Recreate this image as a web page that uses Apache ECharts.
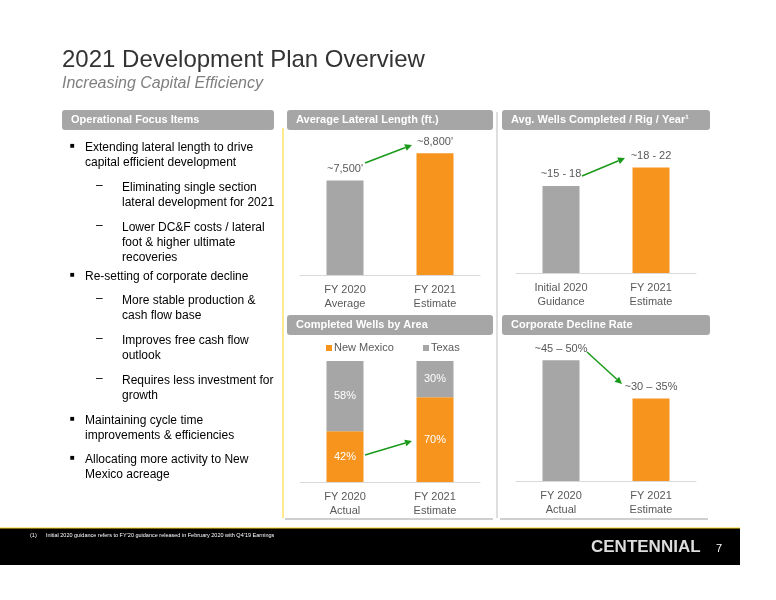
<!DOCTYPE html>
<html><head><meta charset="utf-8">
<script src="https://cdn.jsdelivr.net/npm/echarts@6/dist/echarts.min.js"></script>
<style>html,body{margin:0;padding:0;background:#fff}#c{width:776px;height:600px}</style>
</head><body><div id="c"></div>
<script>
const latCats = ['FY 2020\nAverage', 'FY 2021\nEstimate'];
const latValues = [7500, 8800];
const latLabels = ["~7,500'", "~8,800'"];
const wellCats = ['Initial 2020\nGuidance', 'FY 2021\nEstimate'];
const wellValues = [16.5, 20];
const wellLabels = ['~15 - 18', '~18 - 22'];
const areaCats = ['FY 2020\nActual', 'FY 2021\nEstimate'];
const newMexico = [42, 70];
const texas = [58, 30];
const declCats = ['FY 2020\nActual', 'FY 2021\nEstimate'];
const declValues = [47.5, 32.5];
const declLabels = ['~45 – 50%', '~30 – 35%'];

const GRAY = '#a6a6a6', ORANGE = '#f7941d', TXT = '#595959', GREEN = '#1a9a1a';
const F = 'Liberation Sans, Arial, sans-serif';

function grid(l, r, t, b) { return {left: l, width: r - l, top: t, height: b - t}; }
const grids = [grid(300, 480, 128, 275), grid(516, 696, 141, 273), grid(300, 480, 361, 482), grid(516, 696, 354, 481)];
const cats = [latCats, wellCats, areaCats, declCats];
const yr = [[3000, 10000], [0, 25], [0, 100], [0, 50]];

const xAxis = cats.map((c, i) => ({type: 'category', gridIndex: i, data: c,
  axisLine: {lineStyle: {color: '#d9d9d9'}}, axisTick: {show: false},
  axisLabel: {color: TXT, fontFamily: F, fontSize: 11, lineHeight: 14, margin: 8}}));
const yAxis = yr.map((r, i) => ({type: 'value', gridIndex: i, min: r[0], max: r[1], show: false}));

function colored(vals) { return vals.map((v, i) => ({value: v, itemStyle: {color: i === 0 ? GRAY : ORANGE}})); }
const lbl = (arr) => ({show: true, position: 'top', color: TXT, fontFamily: F, fontSize: 11, distance: 6,
  formatter: p => arr[p.dataIndex]});

const series = [
  {type: 'bar', xAxisIndex: 0, yAxisIndex: 0, data: colored(latValues), barWidth: 37, label: lbl(latLabels)},
  {type: 'bar', xAxisIndex: 1, yAxisIndex: 1, data: colored(wellValues), barWidth: 37, label: lbl(wellLabels)},
  {type: 'bar', name: 'New Mexico', xAxisIndex: 2, yAxisIndex: 2, stack: 'a', data: newMexico, barWidth: 37,
    itemStyle: {color: ORANGE}, label: {show: true, position: 'inside', color: '#fff', fontFamily: F, fontSize: 11, formatter: '{c}%'}},
  {type: 'bar', name: 'Texas', xAxisIndex: 2, yAxisIndex: 2, stack: 'a', data: texas, barWidth: 37,
    itemStyle: {color: GRAY}, label: {show: true, position: 'inside', color: '#fff', fontFamily: F, fontSize: 11, formatter: '{c}%'}},
  {type: 'bar', xAxisIndex: 3, yAxisIndex: 3, data: colored(declValues), barWidth: 37, label: lbl(declLabels)}
];

function header(x, y, w, text) {
  return {type: 'group', children: [
    {type: 'rect', shape: {x: x, y: y, width: w, height: 20, r: 3}, style: {fill: GRAY}},
    {type: 'text', x: x + 9, y: y + 10, style: {text: text, fill: '#fff', font: 'bold 11px ' + F, verticalAlign: 'middle'}}]};
}
function arrow(x1, y1, x2, y2) {
  const a = Math.atan2(y2 - y1, x2 - x1), L = 7, W = 3.5;
  const bx = x2 - L * Math.cos(a), by = y2 - L * Math.sin(a);
  const px = -Math.sin(a) * W, py = Math.cos(a) * W;
  return {type: 'group', children: [
    {type: 'line', shape: {x1: x1, y1: y1, x2: bx, y2: by}, style: {stroke: GREEN, lineWidth: 1.5}},
    {type: 'polygon', shape: {points: [[x2, y2], [bx + px, by + py], [bx - px, by - py]]}, style: {fill: GREEN}}]};
}
function t(x, y, text, font, fill) { return {type: 'text', x: x, y: y, style: {text: text, font: font, fill: fill || '#000', verticalAlign: 'top'}}; }

const bullets = [
  [70, 140, '■', 85, 'Extending lateral length to drive\ncapital efficient development'],
  [96, 180, '–', 122, 'Eliminating single section\nlateral development for 2021'],
  [96, 220, '–', 122, 'Lower DC&F costs / lateral\nfoot & higher ultimate\nrecoveries'],
  [70, 269, '■', 85, 'Re-setting of corporate decline'],
  [96, 293, '–', 122, 'More stable production &\ncash flow base'],
  [96, 333, '–', 122, 'Improves free cash flow\noutlook'],
  [96, 373, '–', 122, 'Requires less investment for\ngrowth'],
  [70, 413, '■', 85, 'Maintaining cycle time\nimprovements & efficiencies'],
  [70, 452, '■', 85, 'Allocating more activity to New\nMexico acreage']
];
const graphic = [
  t(62, 48, '2021 Development Plan Overview', '24px ' + F, '#333'),
  t(62, 76, 'Increasing Capital Efficiency', 'italic 16px ' + F, '#7f7f7f'),
  header(62, 110, 212, 'Operational Focus Items'),
  header(287, 110, 206, 'Average Lateral Length (ft.)'),
  header(502, 110, 208, 'Avg. Wells Completed / Rig / Year¹'),
  header(287, 315, 206, 'Completed Wells by Area'),
  header(502, 315, 208, 'Corporate Decline Rate'),
  {type: 'line', shape: {x1: 283, y1: 128, x2: 283, y2: 518}, style: {stroke: '#ffd21f', lineWidth: 1}},
  {type: 'line', shape: {x1: 497, y1: 112, x2: 497, y2: 518}, style: {stroke: '#bfbfbf', lineWidth: 1}},
  {type: 'line', shape: {x1: 285, y1: 519, x2: 493, y2: 519}, style: {stroke: '#bfbfbf', lineWidth: 1.5}},
  {type: 'line', shape: {x1: 500, y1: 519, x2: 708, y2: 519}, style: {stroke: '#bfbfbf', lineWidth: 1.5}},
  {type: 'rect', shape: {x: 0, y: 528, width: 740, height: 37}, style: {fill: '#000'}},
  {type: 'line', shape: {x1: 0, y1: 528, x2: 740, y2: 528}, style: {stroke: '#ffd21f', lineWidth: 1}},
  t(30, 532, '(1)      Initial 2020 guidance refers to FY’20 guidance released in February 2020 with Q4’19 Earnings', '5.5px ' + F, '#fff'),
  t(591, 539, 'CENTENNIAL', 'bold 17px Liberation Sans, Arial, sans-serif', '#ddd'),
  t(716, 543, '7', '11px ' + F, '#fff'),
  {type: 'rect', shape: {x: 326, y: 345, width: 6, height: 6}, style: {fill: ORANGE}},
  t(334, 342, 'New Mexico', '11px ' + F, TXT),
  {type: 'rect', shape: {x: 423, y: 345, width: 6, height: 6}, style: {fill: GRAY}},
  t(431, 342, 'Texas', '11px ' + F, TXT),
  arrow(365, 163, 412, 145),
  arrow(582, 176, 625, 158),
  arrow(365, 455, 412, 441),
  arrow(587, 352, 622, 384)
];
bullets.forEach(b => { graphic.push(t(b[0], b[1] + (b[2] === '■' ? 2 : 0), b[2], (b[2] === '■' ? '8px ' : '12px ') + F, '#000')); graphic.push({type: 'text', x: b[3], y: b[1], style: {text: b[4], font: '12px ' + F, fill: '#000', lineHeight: 15, verticalAlign: 'top'}}); });

const chart = echarts.init(document.getElementById('c'));
chart.setOption({animation: false, grid: grids, xAxis: xAxis, yAxis: yAxis, series: series, graphic: graphic});
</script></body></html>
